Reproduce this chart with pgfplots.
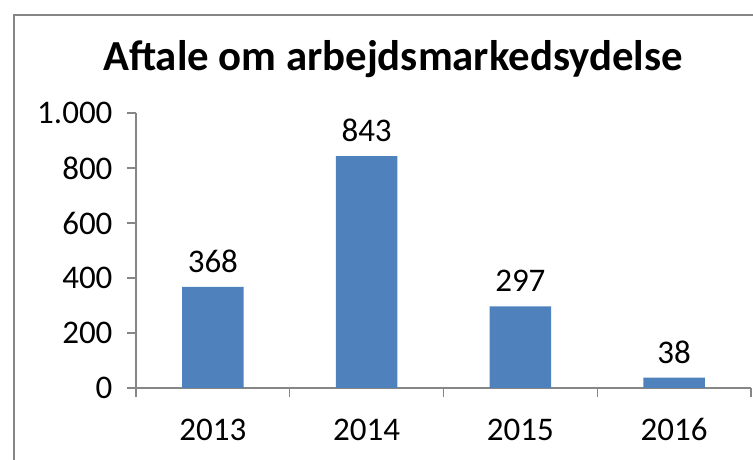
\documentclass[border=0pt]{standalone}
\usepackage{pgfplots}
\pgfplotsset{compat=1.18}
\usepackage{fontspec}
\setmainfont{Carlito}
\definecolor{barblue}{HTML}{4F81BD}
\definecolor{axgray}{HTML}{868686}
\begin{document}
\begin{tikzpicture}[x=1pt,y=1pt]
\path[use as bounding box] (0,0) rectangle (753,460);
\draw[axgray,line width=1.2pt] (14,-10) -- (14,445) -- (770,445);
\node[anchor=base,font=\fontsize{42.8}{50}\selectfont\bfseries] at (393,389) {Aftale om arbejdsmarkedsydelse};
\begin{axis}[
  at={(136pt,72pt)}, anchor=south west,
  scale only axis, width=615pt, height=275pt,
  xmin=-0.5, xmax=3.5, ymin=0, ymax=1000,
  axis x line*=bottom, axis y line*=left,
  axis line style={axgray,line width=1.2pt},
  tick align=outside,
  xtick={0,1,2,3}, xticklabels={2013,2014,2015,2016},
  major x tick style={draw=none},
  minor xtick={-0.5,0.5,1.5,2.5,3.5},
  minor tick length=9pt,
  minor x tick style={axgray,line width=1.2pt},
  ytick={0,200,400,600,800,1000},
  major tick length=9pt,
  y tick style={axgray,line width=1.2pt},
  /pgf/number format/.cd, 1000 sep={.}, assume math mode=true,
  /pgfplots/.cd,
  ticklabel style={font=\fontsize{33}{38}\selectfont},
  yticklabel style={xshift=-11pt},
  xticklabel style={yshift=-33pt, text height=0.65em, text depth=0pt},
  ybar, bar width=0.4,
  nodes near coords,
  nodes near coords style={font=\fontsize{33}{38}\selectfont, yshift=11pt, text height=0.65em, text depth=0pt},
  clip=false,
]
\addplot[fill=barblue, draw=none] coordinates {(0,368) (1,843) (2,297) (3,38)};
\end{axis}
\end{tikzpicture}
\end{document}
